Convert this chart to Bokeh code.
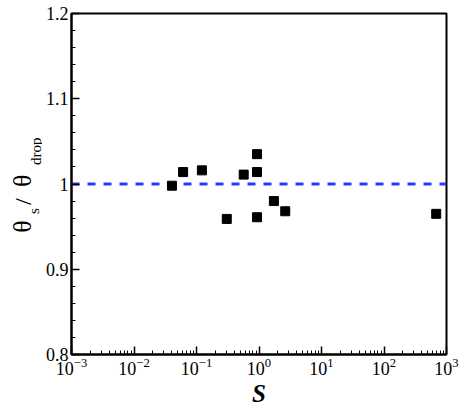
import math
from bokeh.plotting import figure
from bokeh.layouts import row
from bokeh.models import FixedTicker, CustomJSTickFormatter
from bokeh.core.properties import value
from bokeh.embed import file_html
from bokeh.resources import INLINE

# ---- data ----
S_vals = [0.0405, 0.061, 0.122, 0.305, 0.569, 0.93, 0.93, 0.93, 1.73, 2.63, 684.0]
ratio_vals = [0.998, 1.014, 1.016, 0.959, 1.011, 1.035, 1.014, 0.961, 0.980, 0.968, 0.965]
ref_x = [1e-3, 1e3]
ref_y = [1.0, 1.0]
x_tick_vals = [1e-3, 1e-2, 1e-1, 1e0, 1e1, 1e2, 1e3]
y_tick_vals = [0.8, 0.9, 1.0, 1.1, 1.2]
y_minor_vals = [0.82, 0.84, 0.86, 0.88, 0.92, 0.94, 0.96, 0.98,
                1.02, 1.04, 1.06, 1.08, 1.12, 1.14, 1.16, 1.18]
ylab_theta = ["θ", "θ"]
ylab_slash = ["/"]
ylab_small = ["s", "drop"]

FONT = "Liberation Serif"

H = 409
TOP, BOTTOM = 13, 54

# ---- side panel holding the composite y-axis title ----
LW = 42
lab = figure(width=LW, height=H, x_range=(0, LW), y_range=(BOTTOM, H - TOP),
             x_axis_location=None, y_axis_location=None,
             output_backend="svg", toolbar_location=None,
             min_border_left=0, min_border_right=0,
             min_border_top=TOP, min_border_bottom=BOTTOM)
lab.grid.visible = False
lab.outline_line_color = None
lab.background_fill_color = "white"
lab.border_fill_color = "white"
lab.text(x=[22, 22], y=[H - 233, H - 187], text=ylab_theta,
         angle=math.pi / 2, text_font=value(FONT), text_font_size="26px",
         text_align="left", text_baseline="alphabetic", text_color="black")
lab.text(x=[22], y=[H - 205], text=ylab_slash,
         angle=math.pi / 2, text_font=value(FONT), text_font_size="24px",
         text_align="left", text_baseline="alphabetic", text_color="black")
lab.text(x=[33, 35], y=[H - 214, H - 165], text=ylab_small,
         angle=math.pi / 2, text_font=value(FONT), text_font_size="15px",
         text_align="left", text_baseline="alphabetic", text_color="black")

# ---- main plot ----
p = figure(width=465 - LW, height=H, x_axis_type="log",
           x_range=(1e-3, 1e3), y_range=(0.8, 1.2),
           output_backend="svg", toolbar_location=None,
           min_border_left=70 - LW, min_border_right=19,
           min_border_top=TOP, min_border_bottom=BOTTOM)
p.grid.visible = False
p.outline_line_color = "black"
p.outline_line_width = 2
p.background_fill_color = "white"
p.border_fill_color = "white"

minor_x = []
for e in range(-3, 3):
    for k in range(2, 10):
        minor_x.append(k * 10.0 ** e)
p.xaxis.ticker = FixedTicker(ticks=x_tick_vals, minor_ticks=minor_x)
p.yaxis.ticker = FixedTicker(ticks=y_tick_vals, minor_ticks=y_minor_vals)

for ax in (p.xaxis[0], p.yaxis[0]):
    ax.axis_line_width = 2
    ax.axis_line_color = "black"
    ax.major_tick_in = 8
    ax.major_tick_out = 0
    ax.minor_tick_in = 4
    ax.minor_tick_out = 0
    ax.major_tick_line_width = 1.5
    ax.minor_tick_line_width = 1
    ax.major_label_text_font = FONT
    ax.major_label_text_font_size = "18px"
    ax.major_label_text_color = "black"

p.yaxis.axis_label = None
p.yaxis.formatter = CustomJSTickFormatter(code="return String(Math.round(tick*10)/10);")
p.yaxis.major_label_standoff = 3

p.xaxis.major_label_standoff = 3
p.xaxis.axis_label = "S"
p.xaxis.axis_label_text_font = FONT
p.xaxis.axis_label_text_font_size = "25px"
p.xaxis.axis_label_text_font_style = "bold italic"
p.xaxis.axis_label_text_color = "black"
p.xaxis.axis_label_standoff = 2

# reference line and points
p.line(ref_x, ref_y, line_color="#3333ff", line_width=3, line_dash="8 8")
p.scatter(S_vals, ratio_vals, marker="square", size=9,
          fill_color="black", line_color="black")

layout = row(lab, p, spacing=0)
open("out.html", "w").write(file_html(layout, INLINE))
